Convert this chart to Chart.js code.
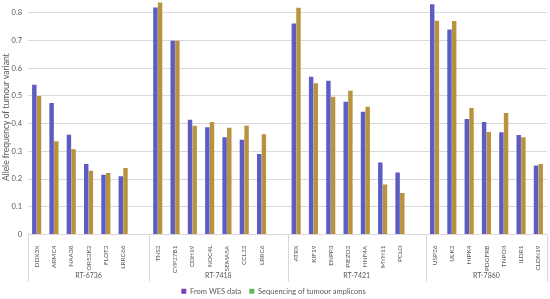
<!DOCTYPE html>
<html>
<head>
<meta charset="utf-8">
<script src="https://cdn.jsdelivr.net/npm/chart.js@4"></script>
<style>
  html, body { margin: 0; padding: 0; background: #fff; }
  #wrap { width: 550px; height: 299px; }
</style>
</head>
<body>
<div id="wrap"><canvas id="chart"></canvas></div>
<script>
// genes, grouped by cell line (blank slots separate the groups)
const genes = ['DDX3X','ARMC4','NAA38','OR52K2','FLOT2','LRRC66','',
  'TNS2','CYP27B1','CDH19','NOC4L','SEMA5A','CCL22','LRRC6','',
  'ATRX','KIF19','ENPP3','PIEZO2','HNF4A','MYH11','PCLO','',
  'USP26','ULK2','HIPK4','PDGFRB','TNPO3','ILDR1','CLDN19'];

const wesValues = [0.54,0.474,0.36,0.254,0.216,0.21,null,
  0.819,0.699,0.414,0.387,0.351,0.342,0.29,null,
  0.761,0.569,0.555,0.479,0.443,0.26,0.224,null,
  0.831,0.74,0.417,0.406,0.369,0.359,0.249];

const ampliconValues = [0.50,0.336,0.308,0.23,0.222,0.24,null,
  0.837,0.699,0.392,0.406,0.385,0.392,0.362,null,
  0.818,0.546,0.497,0.519,0.461,0.18,0.15,null,
  0.771,0.77,0.456,0.37,0.438,0.351,0.254];

const cellLines = ['RT-6736','RT-7418','RT-7421','RT-7860'];
const groupFirst = [0,7,15,23];
const groupLast = [6,14,22,29];

const seriesNames = ['From WES data','Sequencing of tumour amplicons'];
const yTicks = [0,0.1,0.2,0.3,0.4,0.5,0.6,0.7,0.8];

var groupPlugin = {
  id: 'groups',
  afterDraw: function(chart){
    var ctx = chart.ctx;
    var x = chart.scales.x;
    var area = chart.chartArea;
    var step = x.width / genes.length;
    ctx.save();
    ctx.strokeStyle = '#d9d9d9';
    ctx.lineWidth = 1;
    var edges = groupFirst.concat([genes.length]);
    edges.forEach(function(i){
      var px = Math.round(x.left + i * step) + 0.5;
      ctx.beginPath();
      ctx.moveTo(px, area.bottom);
      ctx.lineTo(px, area.bottom + 47);
      ctx.stroke();
    });
    ctx.fillStyle = '#595959';
    ctx.font = '7px Lato';
    ctx.textAlign = 'center';
    ctx.textBaseline = 'middle';
    cellLines.forEach(function(name, k){
      var cx = x.left + (groupFirst[k] + groupLast[k] + 1) / 2 * step;
      ctx.fillText(name, cx, area.bottom + 41);
    });
    ctx.restore();
  }
};

var ctx = document.getElementById('chart').getContext('2d');

var chart = new Chart(ctx, {
  type: 'bar',
  data: {
    labels: genes,
    datasets: [{
      label: seriesNames[0],
      data: wesValues,
      backgroundColor: '#5d5cc4',
      categoryPercentage: 0.54,
      barPercentage: 0.95
    },{
      label: seriesNames[1],
      data: ampliconValues,
      backgroundColor: '#b8923c',
      categoryPercentage: 0.54,
      barPercentage: 0.95
    }]
  },
  plugins: [groupPlugin],
  options: {
    responsive: true,
    maintainAspectRatio: false,
    animation: false,
    layout: {
      padding: { left: 0, right: 3, top: 0, bottom: -6 }
    },
    plugins: {
      tooltip: { enabled: false },
      legend: {
        position: 'bottom',
        labels: {
          boxWidth: 5,
          boxHeight: 5,
          padding: 8,
          color: '#595959',
          font: { family: 'Lato', size: 7.5 },
          generateLabels: function(c){
            var fills = ['#7a3fb5','#5cb85c'];
            return seriesNames.map(function(n, i){
              return { text: n, fillStyle: fills[i], strokeStyle: fills[i], lineWidth: 0, datasetIndex: i, fontColor: '#595959' };
            });
          }
        }
      }
    },
    scales: {
      x: {
        grid: { display: false },
        border: { display: false },
        ticks: {
          autoSkip: false,
          maxRotation: 90,
          minRotation: 90,
          padding: 3,
          color: '#595959',
          font: { family: 'Lato', size: 6.5 }
        },
        afterFit: function(scale){ scale.height = 45; }
      },
      y: {
        min: 0,
        max: 0.846,
        afterBuildTicks: function(scale){
          scale.ticks = yTicks.map(function(v){ return { value: v }; });
        },
        grid: { color: '#d9d9d9', drawTicks: false },
        border: { display: false },
        ticks: {
          padding: 6,
          color: '#595959',
          font: { family: 'Lato', size: 7.5 },
          callback: function(v){ return v === 0 ? '0' : v.toFixed(1); }
        },
        title: {
          display: true,
          text: 'Allele frequency of tumour variant',
          color: '#595959',
          padding: { top: 1, bottom: 0 },
          font: { family: 'Lato', size: 8.5 }
        },
        afterFit: function(scale){ scale.width = 28; scale.paddingTop = 0; }
      }
    }
  }
});
</script>
</body>
</html>
